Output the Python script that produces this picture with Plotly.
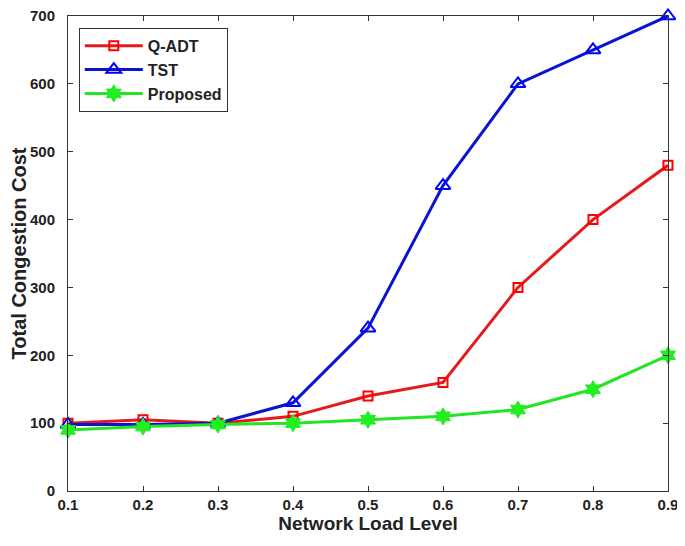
import plotly.graph_objects as go

x_vals = [0.1, 0.2, 0.3, 0.4, 0.5, 0.6, 0.7, 0.8, 0.9]
qadt = [100, 105, 100, 110, 140, 160, 300, 400, 480]
tst = [98, 98, 100, 130, 240, 450, 600, 650, 700]
proposed = [90, 95, 98, 100, 105, 110, 120, 150, 200]
y_ticks = [0, 100, 200, 300, 400, 500, 600, 700]

FONT = "Liberation Sans"

fig = go.Figure()
fig.add_trace(go.Scatter(x=x_vals, y=qadt, name="<b>Q-ADT</b>", mode="lines+markers",
                         line=dict(color="#e41a1c", width=3),
                         marker=dict(symbol="square-open", size=9, color="#ff0000", line=dict(width=2)),
                         cliponaxis=False))
fig.add_trace(go.Scatter(x=x_vals, y=tst, name="<b>TST</b>", mode="lines+markers",
                         line=dict(color="#0a14d0", width=3),
                         marker=dict(symbol="triangle-up-open", size=13, color="#0000ff", line=dict(width=2)),
                         cliponaxis=False))
fig.add_trace(go.Scatter(x=x_vals, y=proposed, name="<b>Proposed</b>", mode="lines+markers",
                         line=dict(color="#22e622", width=3),
                         marker=dict(symbol="hexagram", size=13, color="#22ee22", line=dict(width=1, color="#22ee22")),
                         cliponaxis=False))

axis_common = dict(showline=True, linecolor="#333", linewidth=1, mirror="ticks",
                   ticks="inside", ticklen=5, tickcolor="#333", showgrid=False, zeroline=False,
                   automargin=False, ticklabeloverflow="allow",
                   tickfont=dict(family=FONT, size=15, color="#222"))
fig.update_xaxes(range=[0.1, 0.9], tickvals=x_vals, ticktext=["<b>%s</b>" % v for v in x_vals],
                 title=dict(text="<b>Network Load Level</b>", font=dict(family=FONT, size=19, color="#222"), standoff=4),
                 **axis_common)
fig.update_yaxes(range=[0, 700], tickvals=y_ticks,
                 ticktext=["<b>%d</b>" % v for v in y_ticks],
                 ticklabelstandoff=9,
                 title=dict(text="<b>Total Congestion Cost</b>", font=dict(family=FONT, size=20, color="#222"), standoff=4),
                 **axis_common)
fig.update_layout(width=677, height=530, margin=dict(l=60, r=17, t=8, b=47),
                  plot_bgcolor="white", paper_bgcolor="white",
                  legend=dict(x=0.018, y=0.975, xanchor="left", yanchor="top",
                              bordercolor="#333", borderwidth=1, bgcolor="white",
                              font=dict(family=FONT, size=16, color="#222"),
                              itemwidth=58, tracegroupgap=0))
fig.write_html("out.html")
